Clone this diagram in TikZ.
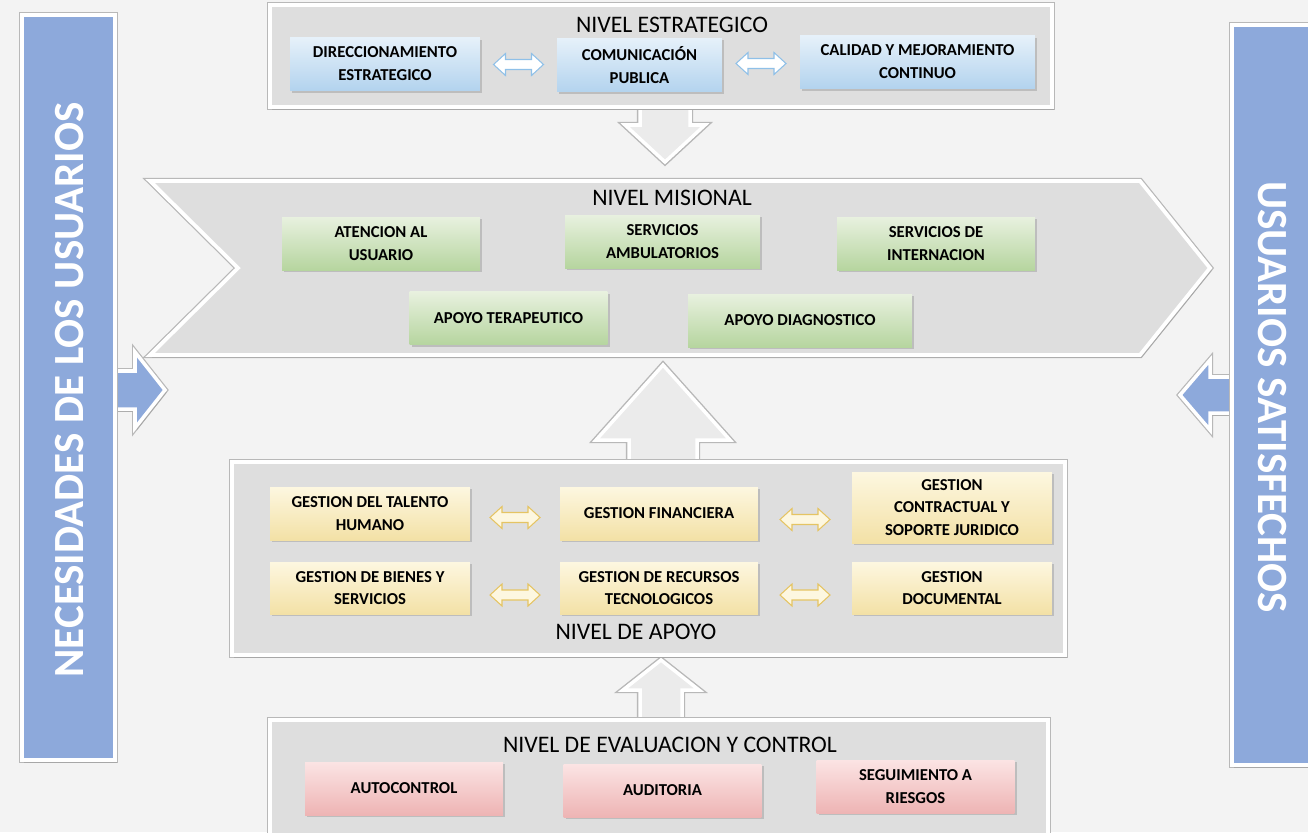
\documentclass[tikz,border=0pt]{standalone}
\usepackage{fontspec}
\setmainfont{Carlito}
\usetikzlibrary{shadows,calc}
\definecolor{BGGray}{HTML}{F3F3F3}
\definecolor{PanelGray}{HTML}{DEDEDE}
\definecolor{ArrowGray}{HTML}{EBEBEB}
\definecolor{EdgeGray}{HTML}{B8B8B8}
\definecolor{SideBlue}{HTML}{8DA9DB}
\definecolor{EstrTop}{HTML}{E6F1FA}
\definecolor{EstrBot}{HTML}{B3D3EE}
\definecolor{EstrEdge}{HTML}{8FC0E8}
\definecolor{MisTop}{HTML}{E8F1DF}
\definecolor{MisBot}{HTML}{B6D59F}
\definecolor{ApoTop}{HTML}{FDF7E0}
\definecolor{ApoBot}{HTML}{F3E1A6}
\definecolor{ApoEdge}{HTML}{E5C463}
\definecolor{EvaTop}{HTML}{FBE4E4}
\definecolor{EvaBot}{HTML}{EEB4B4}

\begin{document}
\begin{tikzpicture}[x=0.02cm,y=-0.02cm,
  panel/.style={fill=PanelGray,draw=white,line width=2.2pt,
    preaction={draw=EdgeGray,line width=3.6pt},
    drop shadow={shadow xshift=1pt,shadow yshift=-1.5pt,opacity=.3}},
  side/.style={fill=SideBlue,draw=white,line width=2pt,
    preaction={draw=EdgeGray,line width=3.4pt},
    drop shadow={shadow xshift=1pt,shadow yshift=-1.5pt,opacity=.3}},
  blockarrow/.style={fill=ArrowGray,draw=white,line width=2pt,
    preaction={draw=EdgeGray,line width=3.6pt},
    drop shadow={shadow xshift=.8pt,shadow yshift=-.8pt,opacity=.3}},
  procbox/.style={align=center,inner sep=2pt,
    font=\bfseries\fontsize{9.5}{13}\selectfont,
    minimum width=3.96cm,minimum height=1.06cm,
    drop shadow={shadow xshift=1.2pt,shadow yshift=-1.2pt,opacity=.35}},
  estrbox/.style={procbox,top color=EstrTop,bottom color=EstrBot},
  misbox/.style={procbox,top color=MisTop,bottom color=MisBot},
  apobox/.style={procbox,top color=ApoTop,bottom color=ApoBot},
  evabox/.style={procbox,top color=EvaTop,bottom color=EvaBot},
  leveltitle/.style={font=\fontsize{13.5}{15}\selectfont},
  sidetext/.style={text=white,font=\bfseries\fontsize{24.5}{28}\selectfont},
  dblestr/.style={draw=EstrEdge,fill=white,line width=.6pt},
  dblapo/.style={draw=ApoEdge,fill=ApoTop,line width=.6pt},
  dblarrow/.pic={\path[pic actions] (-25,0) -- (-13,-11) -- (-13,-5) -- (13,-5)
    -- (13,-11) -- (25,0) -- (13,11) -- (13,5) -- (-13,5) -- (-13,11) -- cycle;}
]
\path[use as bounding box] (0,0) rectangle (1308,832);
\fill[BGGray] (0,0) rectangle (1308,832);

% side columns
\coordinate (inTip) at (165,390);
\coordinate (outTip) at (1180,395);
\draw[side] (inTip) -- ++(-30,-38) -- ++(0,19) -- ++(-25,0) -- ++(0,38)
  -- ++(25,0) -- ++(0,19) -- cycle;
\draw[side] (outTip) -- ++(30,-35) -- ++(0,17) -- ++(30,0) -- ++(0,36)
  -- ++(-30,0) -- ++(0,17) -- cycle;
\draw[side] (22,15) rectangle (115,760);
\draw[side] (1232,25) rectangle (1320,765);
\node[sidetext,rotate=90] (needs) at (70,390) {NECESIDADES DE LOS USUARIOS};
\node[sidetext,rotate=-90] (happy) at (1272,397) {USUARIOS SATISFECHOS};

% block arrows between levels
\coordinate (downTip) at (665,162);
\coordinate (upTip) at (663,365);
\coordinate (evalTip) at (661,660);
\draw[blockarrow] (downTip) -- ++(-40,-37) -- ++(15,0) -- ++(0,-25) -- ++(50,0)
  -- ++(0,25) -- ++(15,0) -- cycle;
\draw[blockarrow] (upTip) -- ++(-67,75) -- ++(33,0) -- ++(0,30) -- ++(68,0)
  -- ++(0,-30) -- ++(33,0) -- cycle;
\draw[blockarrow] (evalTip) -- ++(-38,30) -- ++(17,0) -- ++(0,35) -- ++(42,0)
  -- ++(0,-35) -- ++(17,0) -- cycle;

% nivel estrategico
\draw[panel] (270,5) rectangle (1052,107);
\node[leveltitle] (estrT) at (672,25) {NIVEL ESTRATEGICO};
\node[estrbox,minimum width=3.8cm] (dir) at (385,64) {DIRECCIONAMIENTO\\ESTRATEGICO};
\node[estrbox,minimum width=3.3cm,minimum height=1.08cm] (com) at (639.5,65) {COMUNICACIÓN\\PUBLICA};
\node[estrbox,minimum width=4.7cm] (cal) at (917.5,62) {CALIDAD Y MEJORAMIENTO\\CONTINUO};
\pic[dblestr] at ($(dir.east)!.5!(com.west)$) {dblarrow};
\pic[dblestr] at ($(com.east)!.5!(cal.west)$) {dblarrow};

% nivel misional
\draw[panel] (150,181) -- (1140,181) -- (1210,268) -- (1140,355) -- (150,355)
  -- (238,268) -- cycle;
\node[leveltitle] (misT) at (672,198) {NIVEL MISIONAL};
\node[misbox] (aten) at (381,243.5) {ATENCION AL\\USUARIO};
\node[misbox,minimum width=3.9cm] (amb) at (662.5,241.5) {SERVICIOS\\AMBULATORIOS};
\node[misbox] (inter) at (936,243.5) {SERVICIOS DE\\INTERNACION};
\node[misbox] (terap) at (508.5,318) {APOYO TERAPEUTICO};
\node[misbox,minimum width=4.48cm] (diag) at (800,320.5) {APOYO DIAGNOSTICO};

% nivel de apoyo
\draw[panel] (232,462) rectangle (1065,655);
\node[leveltitle] (apoT) at (636,632) {NIVEL DE APOYO};
\node[apobox,minimum width=4cm] (tal) at (370,513.5) {GESTION DEL TALENTO\\HUMANO};
\node[apobox] (fin) at (659,513.5) {GESTION FINANCIERA};
\node[apobox,minimum width=4cm,minimum height=1.42cm] (contr) at (952,507.5) {GESTION\\CONTRACTUAL Y\\SOPORTE JURIDICO};
\node[apobox,minimum width=4cm,minimum height=1.04cm] (bien) at (370,588) {GESTION DE BIENES Y\\SERVICIOS};
\node[apobox,minimum height=1.04cm] (tec) at (659,588) {GESTION DE RECURSOS\\TECNOLOGICOS};
\node[apobox,minimum width=4cm,minimum height=1.04cm] (docu) at (952,588) {GESTION\\DOCUMENTAL};
\pic[dblapo] at ($(tal.east)!.5!(fin.west)+(0,4)$) {dblarrow};
\pic[dblapo] at ($(fin.east)!.5!(fin.east-|contr.west)+(0,6)$) {dblarrow};
\pic[dblapo] at ($(bien.east)!.5!(tec.west)+(0,7)$) {dblarrow};
\pic[dblapo] at ($(tec.east)!.5!(docu.west)+(0,7)$) {dblarrow};

% nivel de evaluacion y control
\draw[panel] (270,720) rectangle (1048,845);
\node[leveltitle] (evaT) at (670,745) {NIVEL DE EVALUACION Y CONTROL};
\node[evabox] (auto) at (404,788.5) {AUTOCONTROL};
\node[evabox] (audi) at (662.5,790.5) {AUDITORIA};
\node[evabox] (segui) at (915.5,786.5) {SEGUIMIENTO A\\RIESGOS};
\end{tikzpicture}
\end{document}
